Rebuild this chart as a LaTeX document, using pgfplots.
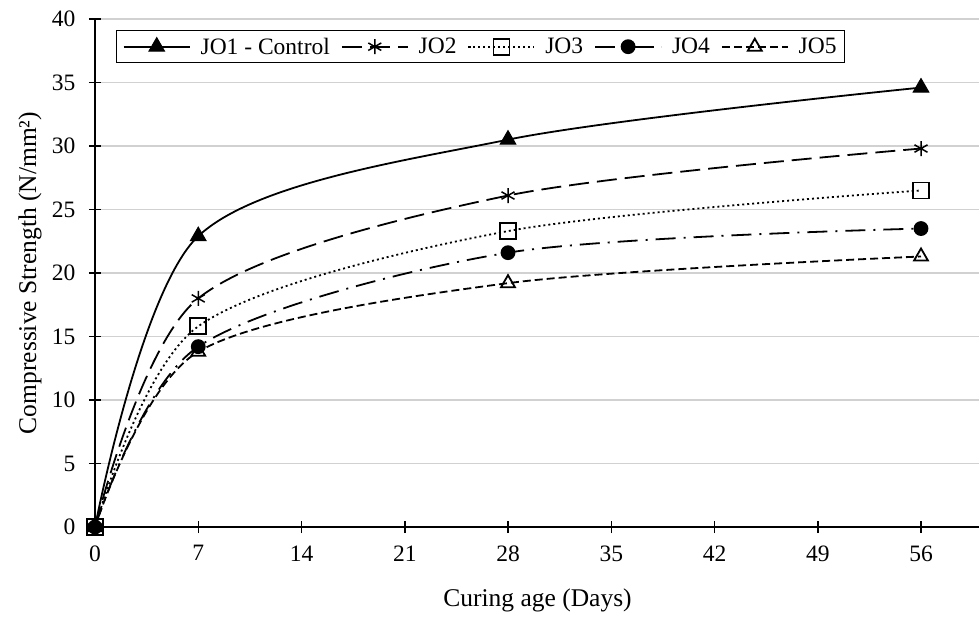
\documentclass[border=0pt]{standalone}
\usepackage{fontspec}
\setmainfont{Liberation Serif}
\usepackage{pgfplots}
\pgfplotsset{compat=1.18}
\begin{document}
\begin{tikzpicture}
\begin{axis}[
  width=885pt, height=508pt, scale only axis,
  xmin=0, xmax=60, ymin=0, ymax=40,
  axis x line=bottom, axis y line=left,
  axis line style={-, line width=1.5pt, black},
  xtick={0,7,...,56}, ytick={0,5,...,40},
  tick align=center, major tick length=12pt,
  tick style={line width=1.5pt, black},
  ymajorgrids, grid style={line width=1.2pt, black!18},
  font=\fontsize{23}{27}\selectfont,
  ticklabel style={font=\fontsize{23.5}{27}\selectfont},
  xticklabel style={yshift=-9pt},
  yticklabel style={xshift=-10pt},
  /pgf/number format/assume math mode=true,
  xlabel={Curing age (Days)},
  ylabel={Compressive Strength (N/mm²)},
  label style={font=\fontsize{25.5}{30}\selectfont},
  xlabel style={at={(axis description cs:0.5,-0.1437)}, anchor=center},
  ylabel style={at={(axis description cs:-0.0734,0.5)}, anchor=center},
  legend columns=5,
  legend style={at={(0.024,0.978)}, anchor=north west, draw=black, line width=1.2pt,
    font=\fontsize{23.5}{28}\selectfont, inner xsep=6pt, inner ysep=5pt,
    /tikz/every even column/.append style={column sep=9pt},
    /tikz/every odd column/.append style={column sep=8pt}},
  legend cell align=left,
  legend image code/.code={\draw[mark repeat=2,mark phase=2] plot coordinates {(0pt,0pt)(33pt,0pt)(66pt,0pt)};},
  every axis plot/.append style={line width=1.8pt, black, smooth},
]
\coordinate (O) at (axis cs:0,0);
\addplot[mark=triangle*, mark size=9pt, mark options={solid, line width=1pt}]
  coordinates {(0,0)(7,22.9)(28,30.5)(56,34.6)};
\addlegendentry{JO1 - Control}
\addplot[dash pattern=on 20pt off 8pt, mark=asterisk, mark size=7.5pt, mark options={solid, line width=1.5pt}]
  coordinates {(0,0)(7,18.0)(28,26.1)(56,29.8)};
\addlegendentry{JO2}
\addplot[dash pattern=on 2pt off 3pt, mark=square, mark size=8pt, mark options={solid, line width=1.8pt, fill=white}]
  coordinates {(0,0)(7,15.8)(28,23.3)(56,26.5)};
\addlegendentry{JO3}
\addplot[dash pattern=on 20pt off 8pt on 2pt off 8pt, mark=*, mark size=6.5pt, mark options={solid}]
  coordinates {(0,0)(7,14.2)(28,21.6)(56,23.5)};
\addlegendentry{JO4}
\addplot[dash pattern=on 8pt off 4pt, mark=triangle, mark size=8pt, mark options={solid, line width=1.8pt, fill=white}]
  coordinates {(0,0)(7,13.8)(28,19.2)(56,21.3)};
\addlegendentry{JO5}
\end{axis}
\pgfresetboundingbox
\path[use as bounding box] (O) ++(-95pt,-89pt) rectangle ++(979pt,616pt);
\end{tikzpicture}
\end{document}
